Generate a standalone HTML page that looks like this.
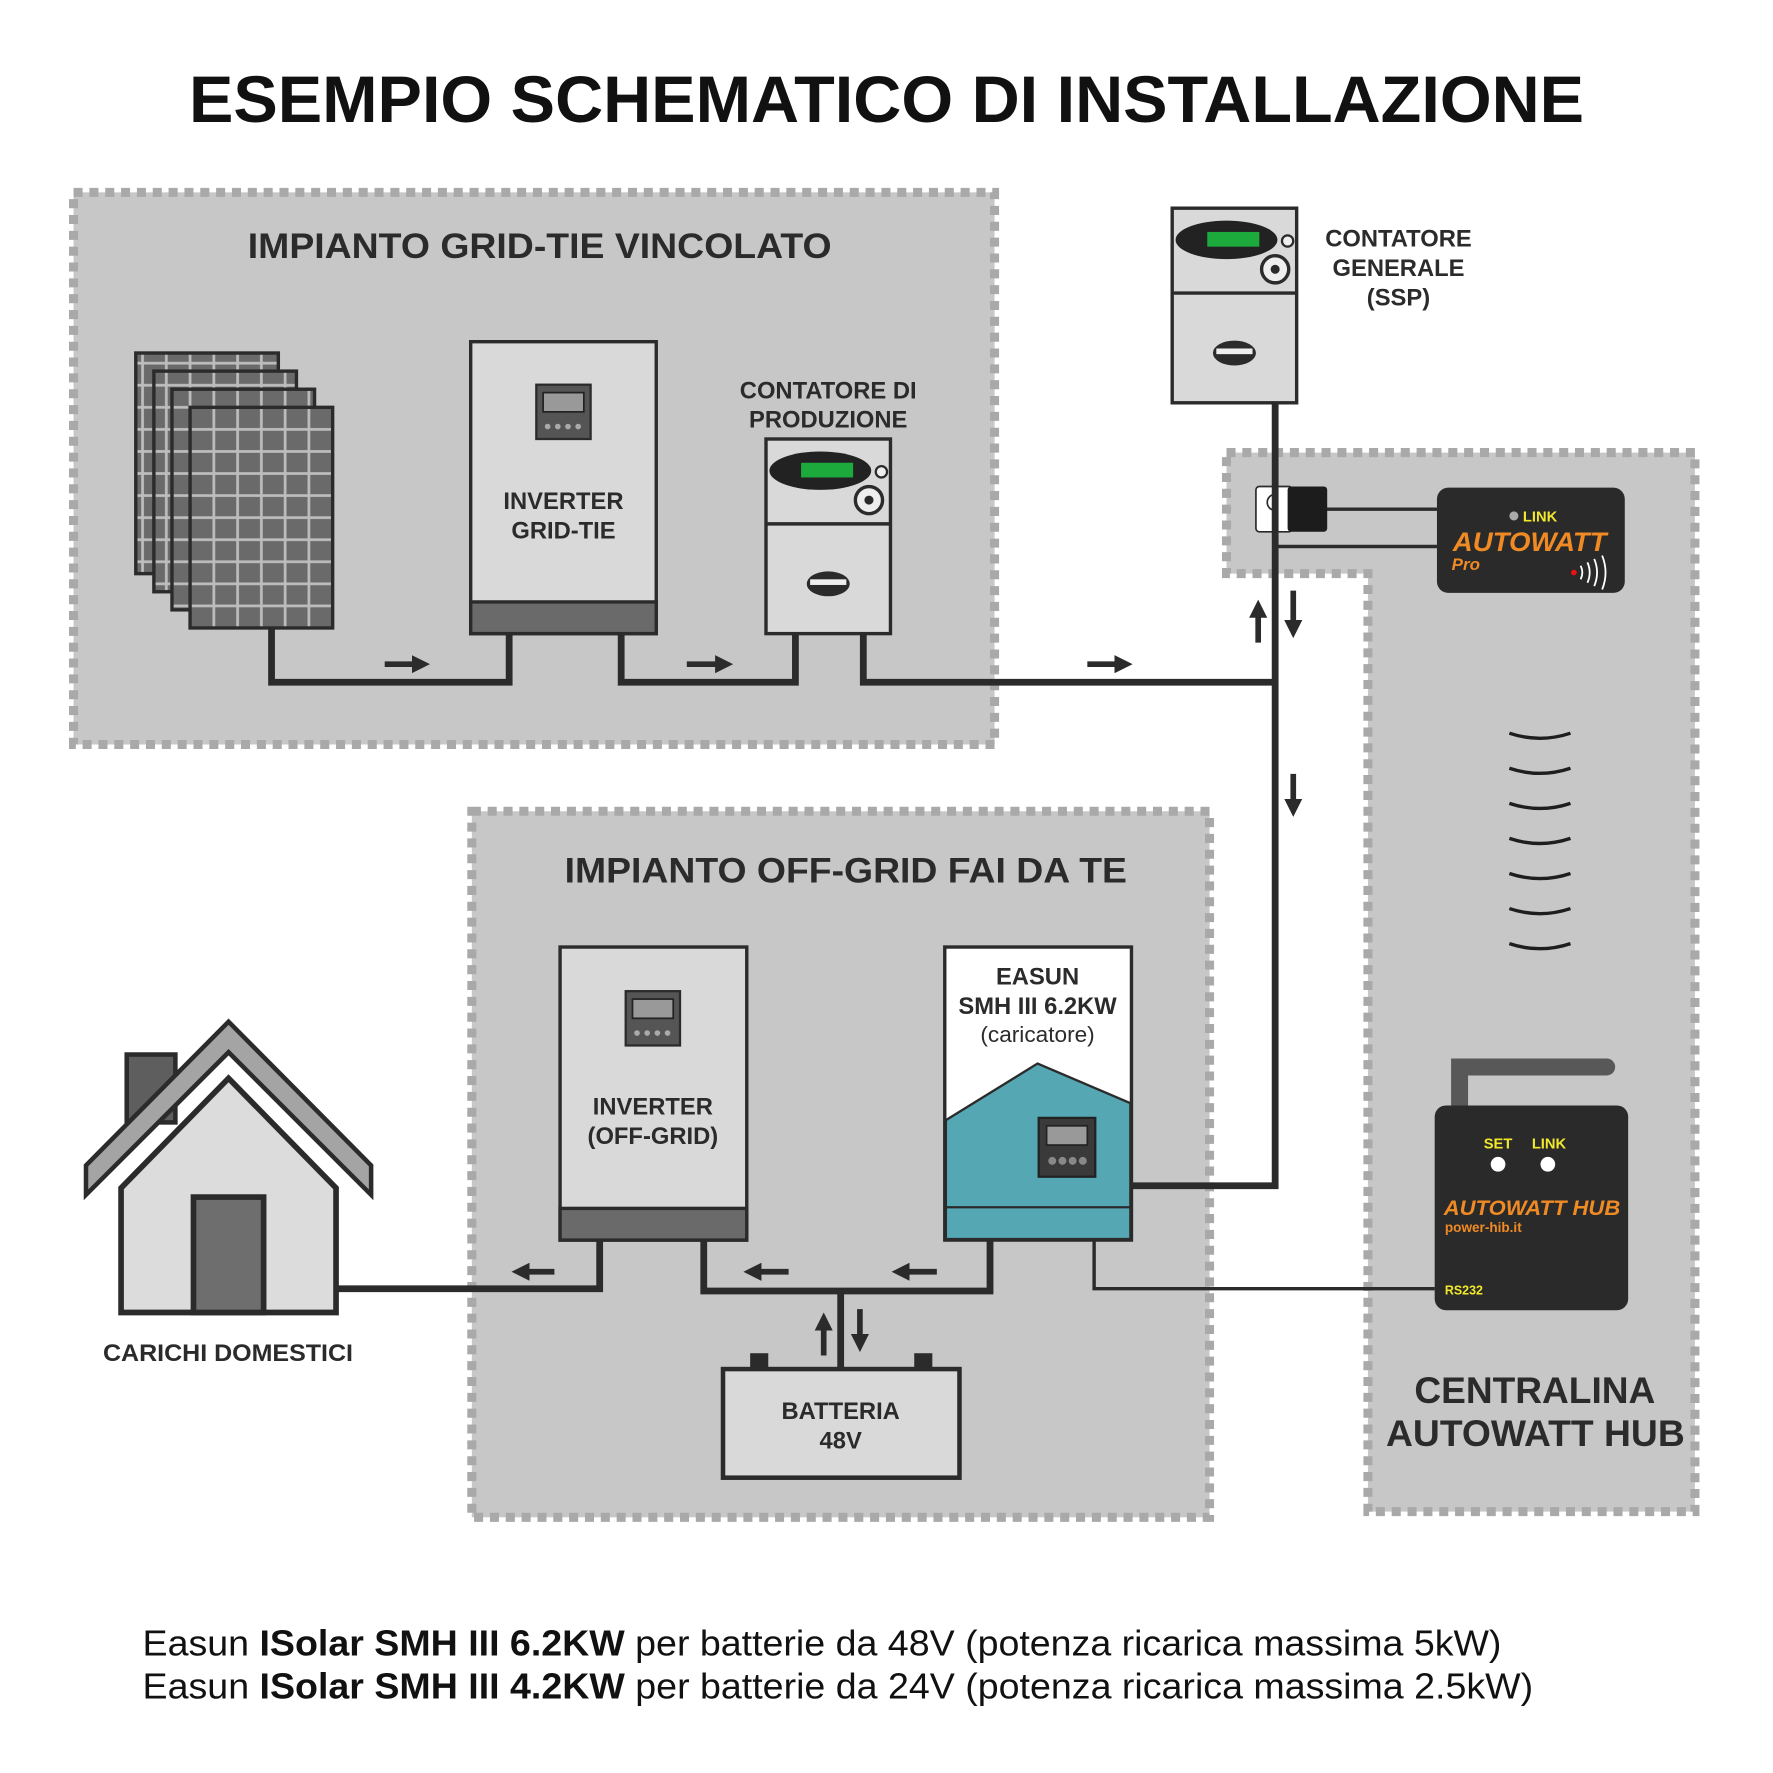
<!DOCTYPE html>
<html><head><meta charset="utf-8"><style>
html,body{margin:0;padding:0;background:#fff;}
svg{display:block;}
text{font-family:"Liberation Sans",sans-serif;}
</style></head><body>
<svg width="1773" height="1773" viewBox="0 0 1567 1567" xmlns="http://www.w3.org/2000/svg">
<defs>
<pattern id="cells" x="168" y="360" width="21" height="19.5" patternUnits="userSpaceOnUse">
<rect width="21" height="19.5" fill="#bdbdbd"/><rect x="1.2" y="1.2" width="18.6" height="17.1" fill="#6a6a6a"/>
</pattern>
<marker id="ah" viewBox="0 0 10 10" refX="5" refY="5" markerWidth="3.2" markerHeight="3.2" orient="auto"><path d="M0,0 L10,5 L0,10 z" fill="#2b2b2b"/></marker>
</defs>
<rect width="1567" height="1567" fill="#fff"/>
<text x="167" y="108" font-size="58" font-weight="bold" textLength="1233" lengthAdjust="spacingAndGlyphs" fill="#111">ESEMPIO SCHEMATICO DI INSTALLAZIONE</text>

<g fill="#c7c7c7" stroke="#a9a9a9" stroke-width="8" stroke-dasharray="8 6">
<rect x="65" y="170" width="814" height="488"/>
<path d="M1084,400 H1498 V1336 H1209 V507 H1084 Z"/>
<rect x="417" y="717" width="652" height="624"/>
</g>
<text x="219" y="228" font-size="31" font-weight="bold" textLength="516" lengthAdjust="spacingAndGlyphs" fill="#2b2b2b">IMPIANTO GRID-TIE VINCOLATO</text>
<text x="499" y="780" font-size="31" font-weight="bold" textLength="497" lengthAdjust="spacingAndGlyphs" fill="#2b2b2b">IMPIANTO OFF-GRID FAI DA TE</text>

<g stroke="#2b2b2b" stroke-width="3">
<rect x="120" y="312" width="126" height="195" fill="url(#cells)"/>
<rect x="136" y="328" width="126" height="195" fill="url(#cells)"/>
<rect x="152" y="344" width="126" height="195" fill="url(#cells)"/>
<rect x="168" y="360" width="126" height="195" fill="url(#cells)"/>
</g>

<g fill="none" stroke="#2b2b2b" stroke-width="6">
<path d="M240,555 V603 H450 V560"/>
<path d="M549,560 V603 H703 V560"/>
<path d="M763,560 V603 H1127"/>
<path d="M1127,356 V1048 H1000"/>
<path d="M530,1096 V1139 H298"/>
<path d="M622,1096 V1141 H875 V1096"/>
<path d="M743,1141 V1210"/>
</g>
<g fill="none" stroke="#2b2b2b" stroke-width="3">
<path d="M967,1096 V1139 H1268"/>
<path d="M1172,450 H1270"/>
<path d="M1127,483 H1270"/>
</g>
<g stroke="#2b2b2b" stroke-width="5" marker-end="url(#ah)">
<line x1="340" y1="587" x2="372" y2="587"/>
<line x1="607" y1="587" x2="640" y2="587"/>
<line x1="961" y1="587" x2="993" y2="587"/>
<line x1="490" y1="1124" x2="460" y2="1124"/>
<line x1="697" y1="1124" x2="665" y2="1124"/>
<line x1="828" y1="1124" x2="796" y2="1124"/>
<line x1="1112" y1="568" x2="1112" y2="538"/>
<line x1="1143" y1="522" x2="1143" y2="556"/>
<line x1="1143" y1="684" x2="1143" y2="714"/>
<line x1="728" y1="1198" x2="728" y2="1168"/>
<line x1="760" y1="1157" x2="760" y2="1187"/>
</g>

<rect x="416" y="302" width="164" height="258" fill="#d9d9d9" stroke="#2b2b2b" stroke-width="3"/>
<rect x="416" y="532" width="164" height="28" fill="#6a6a6a" stroke="#2b2b2b" stroke-width="3"/>
<rect x="474" y="340" width="48" height="48" fill="#555" stroke="#2b2b2b" stroke-width="2"/>
<rect x="480" y="347" width="36" height="17" fill="#999" stroke="#222" stroke-width="1.5"/>
<g fill="#aaa"><circle cx="484" cy="377" r="2.5"/><circle cx="493" cy="377" r="2.5"/><circle cx="502" cy="377" r="2.5"/><circle cx="511" cy="377" r="2.5"/></g>
<text x="498" y="450" font-size="21" font-weight="bold" text-anchor="middle" fill="#2b2b2b">INVERTER</text>
<text x="498" y="476" font-size="21" font-weight="bold" text-anchor="middle" fill="#2b2b2b">GRID-TIE</text>

<g id="m1">
<rect x="677" y="388" width="110" height="172" fill="#d9d9d9" stroke="#2b2b2b" stroke-width="3"/>
<line x1="677" y1="463" x2="787" y2="463" stroke="#2b2b2b" stroke-width="3"/>
<ellipse cx="725" cy="416" rx="45" ry="17" fill="#222"/>
<rect x="708" y="409" width="46" height="13" fill="#1daa3c"/>
<circle cx="768" cy="442" r="12" fill="#eee" stroke="#2b2b2b" stroke-width="3"/><circle cx="768" cy="442" r="4" fill="#2b2b2b"/>
<circle cx="779" cy="417" r="5" fill="#eee" stroke="#2b2b2b" stroke-width="2"/>
<ellipse cx="732" cy="516" rx="19" ry="11" fill="#2b2b2b"/><rect x="716" y="512" width="32" height="5" fill="#eee"/>
</g>
<use href="#m1" transform="translate(359,-204)"/>
<text x="732" y="352" font-size="21" font-weight="bold" text-anchor="middle" fill="#2b2b2b">CONTATORE DI</text>
<text x="732" y="378" font-size="21" font-weight="bold" text-anchor="middle" fill="#2b2b2b">PRODUZIONE</text>
<text x="1236" y="218" font-size="21" font-weight="bold" text-anchor="middle" fill="#2b2b2b">CONTATORE</text>
<text x="1236" y="244" font-size="21" font-weight="bold" text-anchor="middle" fill="#2b2b2b">GENERALE</text>
<text x="1236" y="270" font-size="21" font-weight="bold" text-anchor="middle" fill="#2b2b2b">(SSP)</text>

<rect x="1110" y="430" width="32" height="40" rx="3" fill="#fff" stroke="#2b2b2b" stroke-width="1.5"/>
<rect x="1138" y="430" width="35" height="40" rx="3" fill="#1c1c1c"/>
<path d="M1127,437 a7,7 0 0 0 0,14" fill="none" stroke="#2b2b2b" stroke-width="1.5"/>
<line x1="1127" y1="430" x2="1127" y2="470" stroke="#2b2b2b" stroke-width="6"/>

<rect x="1270" y="431" width="166" height="93" rx="10" fill="#2a2a2a"/>
<circle cx="1338" cy="456" r="4" fill="#aaa"/>
<text x="1346" y="461" font-size="13" font-weight="bold" fill="#f2e92a">LINK</text>
<text x="1284" y="487" font-size="24" font-weight="bold" font-style="italic" textLength="136" lengthAdjust="spacingAndGlyphs" fill="#f08a24">AUTOWATT</text>
<text x="1283" y="504" font-size="15" font-weight="bold" font-style="italic" fill="#f08a24">Pro</text>
<circle cx="1391" cy="506" r="2.5" fill="#e11"/>
<g fill="none" stroke="#fff" stroke-width="1.6"><path d="M1397,500 q3,6 0,12"/><path d="M1403,497 q4,9 0,18"/><path d="M1409,494 q5,12 0,24"/><path d="M1416,491 q6,15 0,30"/></g>

<g fill="none" stroke="#1e1e1e" stroke-width="3">
<path d="M1334,648 q27,9 54,0"/><path d="M1334,679 q27,9 54,0"/><path d="M1334,710 q27,9 54,0"/><path d="M1334,741 q27,9 54,0"/><path d="M1334,772 q27,9 54,0"/><path d="M1334,803 q27,9 54,0"/><path d="M1334,834 q27,9 54,0"/>
</g>

<path d="M1290,980 V943 H1420" fill="none" stroke="#585858" stroke-width="15" stroke-linecap="round"/>
<rect x="1268" y="977" width="171" height="181" rx="10" fill="#2a2a2a"/>
<text x="1324" y="1015" font-size="13" font-weight="bold" text-anchor="middle" fill="#f2e92a">SET</text>
<text x="1369" y="1015" font-size="13" font-weight="bold" text-anchor="middle" fill="#f2e92a">LINK</text>
<circle cx="1324" cy="1029" r="6.5" fill="#fff"/><circle cx="1368" cy="1029" r="6.5" fill="#fff"/>
<text x="1276" y="1074" font-size="19" font-weight="bold" font-style="italic" textLength="156" lengthAdjust="spacingAndGlyphs" fill="#f08a24">AUTOWATT HUB</text>
<text x="1277" y="1089" font-size="12" font-weight="bold" fill="#f08a24">power-hib.it</text>
<text x="1277" y="1144" font-size="11" font-weight="bold" fill="#f2e92a">RS232</text>
<text x="1250" y="1240" font-size="33" font-weight="bold" textLength="213" lengthAdjust="spacingAndGlyphs" fill="#2b2b2b">CENTRALINA</text>
<text x="1225" y="1278" font-size="33" font-weight="bold" textLength="264" lengthAdjust="spacingAndGlyphs" fill="#2b2b2b">AUTOWATT HUB</text>

<rect x="495" y="837" width="165" height="259" fill="#d9d9d9" stroke="#2b2b2b" stroke-width="3"/>
<rect x="495" y="1068" width="165" height="28" fill="#6a6a6a" stroke="#2b2b2b" stroke-width="3"/>
<rect x="553" y="876" width="48" height="48" fill="#555" stroke="#2b2b2b" stroke-width="2"/>
<rect x="559" y="883" width="36" height="17" fill="#999" stroke="#222" stroke-width="1.5"/>
<g fill="#aaa"><circle cx="563" cy="913" r="2.5"/><circle cx="572" cy="913" r="2.5"/><circle cx="581" cy="913" r="2.5"/><circle cx="590" cy="913" r="2.5"/></g>
<text x="577" y="985" font-size="21" font-weight="bold" text-anchor="middle" fill="#2b2b2b">INVERTER</text>
<text x="577" y="1011" font-size="21" font-weight="bold" text-anchor="middle" fill="#2b2b2b">(OFF-GRID)</text>

<rect x="835" y="837" width="165" height="259" fill="#fff" stroke="#2b2b2b" stroke-width="3"/>
<path d="M836,990 L917,940 L999,975 V1095 H836 Z" fill="#55a7b3" stroke="#2b2b2b" stroke-width="2"/>
<line x1="835" y1="1067" x2="1000" y2="1067" stroke="#2b2b2b" stroke-width="2"/>
<rect x="918" y="988" width="50" height="52" fill="#3a3a3a" stroke="#222" stroke-width="2"/>
<rect x="925" y="995" width="36" height="17" fill="#999" stroke="#222" stroke-width="1.5"/>
<g fill="#888"><circle cx="930" cy="1026" r="3.5"/><circle cx="939" cy="1026" r="3.5"/><circle cx="948" cy="1026" r="3.5"/><circle cx="957" cy="1026" r="3.5"/></g>
<text x="917" y="870" font-size="21" font-weight="bold" text-anchor="middle" fill="#2b2b2b">EASUN</text>
<text x="917" y="896" font-size="21" font-weight="bold" text-anchor="middle" fill="#2b2b2b">SMH III 6.2KW</text>
<text x="917" y="921" font-size="20" text-anchor="middle" fill="#2b2b2b">(caricatore)</text>

<rect x="663" y="1196" width="16" height="14" fill="#2b2b2b"/><rect x="808" y="1196" width="16" height="14" fill="#2b2b2b"/>
<rect x="639" y="1210" width="209" height="96" fill="#d9d9d9" stroke="#2b2b2b" stroke-width="4"/>
<text x="743" y="1254" font-size="21" font-weight="bold" text-anchor="middle" fill="#2b2b2b">BATTERIA</text>
<text x="743" y="1280" font-size="21" font-weight="bold" text-anchor="middle" fill="#2b2b2b">48V</text>

<rect x="112" y="932" width="43" height="60" fill="#5e5e5e" stroke="#2b2b2b" stroke-width="4"/>
<path d="M107,1160 V1050 L202,953 L297,1050 V1160 Z" fill="#dcdcdc" stroke="#2b2b2b" stroke-width="5"/>
<path d="M76,1056 V1030 L202,903 L328,1030 V1056 L202,930 Z" fill="#a4a4a4" stroke="#2b2b2b" stroke-width="4"/>
<rect x="171" y="1058" width="62" height="102" fill="#6e6e6e" stroke="#2b2b2b" stroke-width="5"/>
<text x="91" y="1203" font-size="21" font-weight="bold" textLength="221" lengthAdjust="spacingAndGlyphs" fill="#2b2b2b">CARICHI DOMESTICI</text>

<text x="126" y="1463" font-size="32" textLength="1201" lengthAdjust="spacingAndGlyphs" fill="#111">Easun <tspan font-weight="bold">ISolar SMH III 6.2KW</tspan> per batterie da 48V (potenza ricarica massima 5kW)</text>
<text x="126" y="1501" font-size="32" textLength="1229" lengthAdjust="spacingAndGlyphs" fill="#111">Easun <tspan font-weight="bold">ISolar SMH III 4.2KW</tspan> per batterie da 24V (potenza ricarica massima 2.5kW)</text>
</svg>
</body></html>
